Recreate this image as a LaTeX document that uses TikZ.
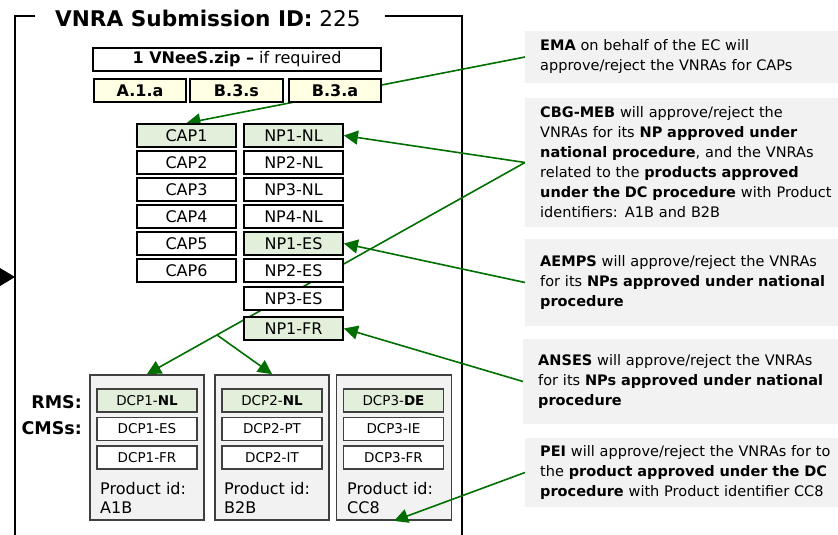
\documentclass[tikz,border=0pt]{standalone}
\usepackage{fontspec}
\setmainfont{DejaVu Sans}
\usetikzlibrary{arrows.meta,calc}
\definecolor{okgreen}{HTML}{006E00}
\definecolor{npgreen}{HTML}{E2EFDA}
\definecolor{zipyellow}{HTML}{FFFFE3}
\definecolor{panelgray}{HTML}{F2F2F2}
\definecolor{edgegray}{HTML}{404040}
\pgfdeclarelayer{links}
\pgfsetlayers{links,main}

\begin{document}
\begin{tikzpicture}[x=1pt,y=-1pt,
  idbox/.style={draw,line width=1.8pt,fill=white,minimum width=99pt,minimum height=23pt,inner sep=0pt,font=\fontsize{16}{18}\selectfont},
  approved/.style={idbox,fill=npgreen},
  filebox/.style={idbox,fill=zipyellow,font=\fontsize{16}{18}\selectfont\bfseries},
  prodbox/.style={draw=edgegray,line width=1.8pt,fill=panelgray,minimum width=114pt,minimum height=145pt},
  dcpbox/.style={draw=edgegray,line width=1.8pt,fill=white,minimum width=100pt,minimum height=23pt,inner sep=0pt,font=\fontsize{13.5}{16}\selectfont},
  note/.style={fill=panelgray,anchor=west,text width=300pt,inner xsep=15pt,inner ysep=0pt,align=left,font=\fontsize{14.5}{20}\selectfont},
  link/.style={okgreen,line width=1.6pt,-{Triangle[length=14pt,width=14pt]}}]
\useasboundingbox (0,0) rectangle (838,535);
\node[anchor=base west,inner sep=0pt,font=\fontsize{21.6}{24}\selectfont] (title) at (55,27) {\textbf{VNRA Submission ID:} 225};
\fill (0,268)--(15,277)--(0,286)--cycle;
% files
\node[idbox,minimum width=288pt] (zip) at (237,59.5) {\textbf{1 VNeeS.zip --} if required};
\node[filebox,minimum width=92pt] (a1a) at (140,90.5) {A.1.a};
\node[filebox,minimum width=93pt] (b3s) at (236.5,90.5) {B.3.s};
\node[filebox,minimum width=92pt] (b3a) at (335,90.5) {B.3.a};
% CAPs and NPs
\node[approved] (cap1) at (186.5,135.5) {CAP1};\node[approved] (np1nl) at (293.5,135.5) {NP1-NL};
\node[idbox] (cap2) at (186.5,162.5) {CAP2};\node[idbox] (np2nl) at (293.5,162.5) {NP2-NL};
\node[idbox] (cap3) at (186.5,189.5) {CAP3};\node[idbox] (np3nl) at (293.5,189.5) {NP3-NL};
\node[idbox] (cap4) at (186.5,216.5) {CAP4};\node[idbox] (np4nl) at (293.5,216.5) {NP4-NL};
\node[idbox] (cap5) at (186.5,243.5) {CAP5};\node[approved] (np1es) at (293.5,243.5) {NP1-ES};
\node[idbox] (cap6) at (186.5,270.5) {CAP6};\node[idbox] (np2es) at (293.5,270.5) {NP2-ES};
\node[idbox] (np3es) at (293.5,298.5) {NP3-ES};
\node[approved] (np1fr) at (293.5,328.5) {NP1-FR};
% DC procedure products
\node[prodbox] (p1) at (147,447.5) {};\node[prodbox] (p2) at (272,447.5) {};\node[prodbox,minimum width=115pt] (p3) at (394,447.5) {};
\node[dcpbox,fill=npgreen] (d11) at (147,400.5) {DCP1-\textbf{NL}};
\node[dcpbox] (d12) at (147,429) {DCP1-ES};\node[dcpbox] (d13) at (147,457.5) {DCP1-FR};
\node[dcpbox,fill=npgreen] (d21) at (272,400.5) {DCP2-\textbf{NL}};
\node[dcpbox] (d22) at (272,429) {DCP2-PT};\node[dcpbox] (d23) at (272,457.5) {DCP2-IT};
\node[dcpbox,fill=npgreen] (d31) at (393.5,400.5) {DCP3-\textbf{DE}};
\node[dcpbox] (d32) at (393.5,429) {DCP3-IE};\node[dcpbox] (d33) at (393.5,457.5) {DCP3-FR};
\node[anchor=north west,align=left,inner sep=0pt,font=\fontsize{16}{19}\selectfont] (id1) at (100,482) {Product id:\\A1B};
\node[anchor=north west,align=left,inner sep=0pt,font=\fontsize{16}{19}\selectfont] (id2) at (224,482) {Product id:\\B2B};
\node[anchor=north west,align=left,inner sep=0pt,font=\fontsize{16}{19}\selectfont] (id3) at (347,482) {Product id:\\CC8};
\node[anchor=base east,inner sep=0pt,font=\fontsize{17.5}{20}\selectfont\bfseries] (rms) at (82,408) {RMS:};
\node[anchor=base east,inner sep=0pt,font=\fontsize{17.5}{20}\selectfont\bfseries] (cms) at (82,434) {CMSs:};
% authorities
\node[note,minimum height=52pt] (ema) at (525,57) {\textbf{EMA} on behalf of the EC will\\approve/reject the VNRAs for CAPs};
\node[note,minimum height=129pt] (cbg) at (525,162.5) {\textbf{CBG-MEB} will approve/reject the\\VNRAs for its \textbf{NP approved under}\\\textbf{national procedure}, and the VNRAs\\related to the \textbf{products approved}\\\textbf{under the DC procedure} with Product\\identifiers: A1B and B2B};
\node[note,minimum height=87pt] (aemps) at (525,282.5) {\textbf{AEMPS} will approve/reject the VNRAs\\for its \textbf{NPs approved under national}\\\textbf{procedure}};
\node[note,minimum height=85pt] (anses) at (523,381.5) {\textbf{ANSES} will approve/reject the VNRAs\\for its \textbf{NPs approved under national}\\\textbf{procedure}};
\node[note,minimum height=69pt] (pei) at (525,472.5) {\textbf{PEI} will approve/reject the VNRAs for to\\the \textbf{product approved under the DC}\\\textbf{procedure} with Product identifier CC8};
% frame and the long links sit behind the boxes
\begin{pgfonlayer}{links}
\draw[line width=1.8pt] (35,16)--(15,16)--(15,540);\draw[line width=1.8pt] (385,16)--(462,16)--(462,540);
\draw[link] (ema.west)--(cap1.north);
\draw[link] (cbg.west)--(p1.north);
\end{pgfonlayer}
% who approves what
\draw[link] (cbg.west)--(np1nl.east);
\coordinate (fork) at ($(cbg.west)!0.815!(p1.north)$);
\draw[link] (fork)--(p2.north);
\draw[link] (aemps.west)--(np1es.east);
\draw[link] (anses.west)--(np1fr.east);
\draw[link] (pei.west)--(p3.south);
\end{tikzpicture}
\end{document}
